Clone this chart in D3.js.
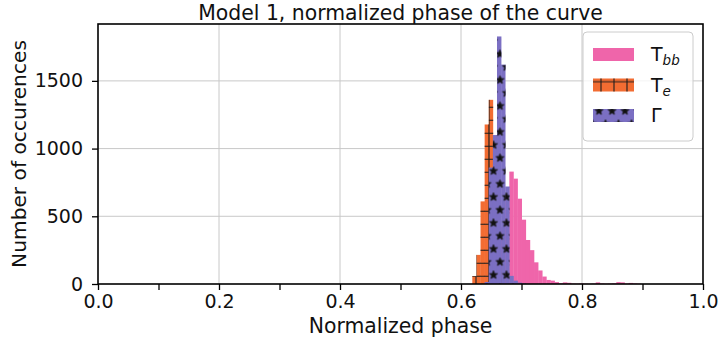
<!DOCTYPE html>
<html>
<head>
<meta charset="utf-8">
<script src="https://cdn.jsdelivr.net/npm/d3@7"></script>
<style>
  html, body { margin: 0; padding: 0; background: #fff; }
  svg { display: block; font-family: "DejaVu Sans", sans-serif; }
</style>
</head>
<body>
<svg id="chart" width="719" height="349"></svg>
<script>
// Histogram binning of the normalized phase
const binStart = 0.6187;
const binWidth = 0.0068;

// Counts per bin for each parameter
const countsTbb = [0, 0, 0, 2, 10, 60, 200, 420, 650, 830, 778, 630, 475, 325, 250, 160, 100, 55, 30, 25,
                   14, 6, 12, 9, 3, 2, 4, 2, 1, 3, 12, 4, 2, 3, 5, 14, 12, 3, 8, 4, 2];
const countsTe  = [58, 215, 610, 1178, 1360, 650, 180, 40, 8];
const countsGamma = [0, 0, 0, 15, 860, 1100, 1828, 1620, 720, 60, 25, 10, 4];

const xTicks = [0, 0.1, 0.2, 0.3, 0.4, 0.5, 0.6, 0.7, 0.8, 0.9, 1.0];
const xTickLabels = ["0.0", "", "0.2", "", "0.4", "", "0.6", "", "0.8", "", "1.0"];
const yTicks = [0, 500, 1000, 1500];
const yMax = 1920;

const colors = { Tbb: "#ef65aa", Te: "#f26c32", Gamma: "#7b6fc3" };

const svg = d3.select("#chart");
const plot = { left: 98, right: 703, top: 24, bottom: 284 };

const x = d3.scaleLinear().domain([0, 1]).range([plot.left, plot.right]);
const y = d3.scaleLinear().domain([0, yMax]).range([plot.bottom, plot.top]);

// ---- hatch patterns ----
const defs = svg.append("defs");
const hs = 13; // hatch spacing

const plus = defs.append("pattern")
  .attr("id", "hatch-plus").attr("patternUnits", "userSpaceOnUse")
  .attr("x", 0).attr("y", 0).attr("width", hs).attr("height", hs);
plus.append("path")
  .attr("d", `M0,3.3H${hs}M8,0V${hs}`)
  .attr("stroke", "#1c1c1c").attr("stroke-width", 1.1).attr("fill", "none");

function starPath(cx, cy, R, r) {
  const pts = [];
  for (let i = 0; i < 10; i++) {
    const a = -Math.PI / 2 + i * Math.PI / 5;
    const rad = i % 2 === 0 ? R : r;
    pts.push([cx + rad * Math.cos(a), cy + rad * Math.sin(a)]);
  }
  return "M" + pts.map(p => p[0].toFixed(2) + "," + p[1].toFixed(2)).join("L") + "Z";
}

const star = defs.append("pattern")
  .attr("id", "hatch-star").attr("patternUnits", "userSpaceOnUse")
  .attr("x", -0.5).attr("y", -4.5).attr("width", hs).attr("height", hs * 2);
[[hs / 2, hs / 2], [0, hs * 1.5], [hs, hs * 1.5]].forEach(([cx, cy]) => {
  star.append("path")
    .attr("d", starPath(cx, cy, 4.4, 2.0))
    .attr("fill", "#111").attr("stroke", "#111").attr("stroke-width", 0.6);
});

// ---- grid ----
const grid = svg.append("g").attr("class", "grid");
grid.selectAll("line.gx")
  .data(xTicks.filter((d, i) => xTickLabels[i] !== "" && d > 0 && d < 1))
  .join("line")
  .attr("x1", d => x(d)).attr("x2", d => x(d))
  .attr("y1", plot.top).attr("y2", plot.bottom)
  .attr("stroke", "#c8c8c8").attr("stroke-width", 1);
grid.selectAll("line.gy")
  .data(yTicks.filter(d => d > 0))
  .join("line")
  .attr("x1", plot.left).attr("x2", plot.right)
  .attr("y1", d => y(d)).attr("y2", d => y(d))
  .attr("stroke", "#c8c8c8").attr("stroke-width", 1);

// ---- histogram bars ----
function bins(counts) {
  return counts.map((c, i) => ({
    x0: binStart + i * binWidth,
    x1: binStart + (i + 1) * binWidth,
    c
  })).filter(d => d.c > 0);
}

function drawHist(counts, color, hatchId) {
  const g = svg.append("g");
  const data = bins(counts);
  g.selectAll("rect.fill").data(data).join("rect")
    .attr("x", d => x(d.x0)).attr("width", d => x(d.x1) - x(d.x0) + 0.3)
    .attr("y", d => y(d.c)).attr("height", d => y(0) - y(d.c))
    .attr("fill", color);
  if (hatchId) {
    g.selectAll("rect.hatch").data(data).join("rect")
      .attr("x", d => x(d.x0)).attr("width", d => x(d.x1) - x(d.x0) + 0.3)
      .attr("y", d => y(d.c)).attr("height", d => y(0) - y(d.c))
      .attr("fill", `url(#${hatchId})`);
  }
}

drawHist(countsTbb, colors.Tbb, null);
drawHist(countsTe, colors.Te, "hatch-plus");
drawHist(countsGamma, colors.Gamma, "hatch-star");

// ---- axes ----
const xAxis = d3.axisBottom(x).tickValues(xTicks)
  .tickFormat((d, i) => xTickLabels[i]).tickSize(6).tickPadding(5);
const gx = svg.append("g").attr("transform", `translate(0,${plot.bottom})`).call(xAxis);
gx.select(".domain").remove();
gx.selectAll(".tick line").attr("stroke", "#000").attr("stroke-width", 1.3);
gx.selectAll(".tick text").attr("font-size", 19).attr("fill", "#111")
  .attr("font-family", "DejaVu Sans");

const yAxis = d3.axisLeft(y).tickValues(yTicks).tickSize(6).tickPadding(9)
  .tickFormat(d3.format("d"));
const gy = svg.append("g").attr("transform", `translate(${plot.left},0)`).call(yAxis);
gy.select(".domain").remove();
gy.selectAll(".tick line").attr("stroke", "#000").attr("stroke-width", 1.3);
gy.selectAll(".tick text").attr("font-size", 19).attr("fill", "#111")
  .attr("font-family", "DejaVu Sans");

// frame
svg.append("rect")
  .attr("x", plot.left).attr("y", plot.top)
  .attr("width", plot.right - plot.left).attr("height", plot.bottom - plot.top)
  .attr("fill", "none").attr("stroke", "#000").attr("stroke-width", 1.6);

// ---- titles ----
svg.append("text")
  .attr("x", (plot.left + plot.right) / 2).attr("y", 20)
  .attr("text-anchor", "middle").attr("font-size", 20.4).attr("fill", "#111")
  .text("Model 1, normalized phase of the curve");

svg.append("text")
  .attr("x", (plot.left + plot.right) / 2).attr("y", 333)
  .attr("text-anchor", "middle").attr("font-size", 20.4).attr("fill", "#111")
  .text("Normalized phase");

svg.append("text")
  .attr("transform", `translate(25.5,${(plot.top + plot.bottom) / 2}) rotate(-90)`)
  .attr("text-anchor", "middle").attr("font-size", 20.2).attr("fill", "#111")
  .text("Number of occurences");

// ---- legend ----
const legend = svg.append("g").attr("transform", "translate(583,32)");
legend.append("rect")
  .attr("width", 110).attr("height", 109).attr("rx", 4)
  .attr("fill", "#fff").attr("fill-opacity", 0.8)
  .attr("stroke", "#cccccc").attr("stroke-width", 1);

const legendItems = [
  { key: "Tbb", hatch: null },
  { key: "Te", hatch: "hatch-plus" },
  { key: "Gamma", hatch: "hatch-star" }
];
legendItems.forEach((it, i) => {
  const gy0 = 16 + i * 30.5;
  const row = legend.append("g").attr("transform", `translate(10,${gy0})`);
  row.append("rect").attr("width", 41).attr("height", 13).attr("fill", colors[it.key]);
  if (it.hatch) {
    row.append("rect").attr("width", 41).attr("height", 13).attr("fill", `url(#${it.hatch})`);
  }
  const t = row.append("text").attr("x", 58).attr("y", 13).attr("font-size", 19).attr("fill", "#111");
  if (it.key === "Tbb") {
    t.append("tspan").text("T");
    t.append("tspan").attr("font-size", 13.5).attr("font-style", "italic").attr("dy", 4).text("bb");
  } else if (it.key === "Te") {
    t.append("tspan").text("T");
    t.append("tspan").attr("font-size", 13.5).attr("font-style", "italic").attr("dy", 4).text("e");
  } else {
    t.text("Γ");
  }
});
</script>
</body>
</html>
